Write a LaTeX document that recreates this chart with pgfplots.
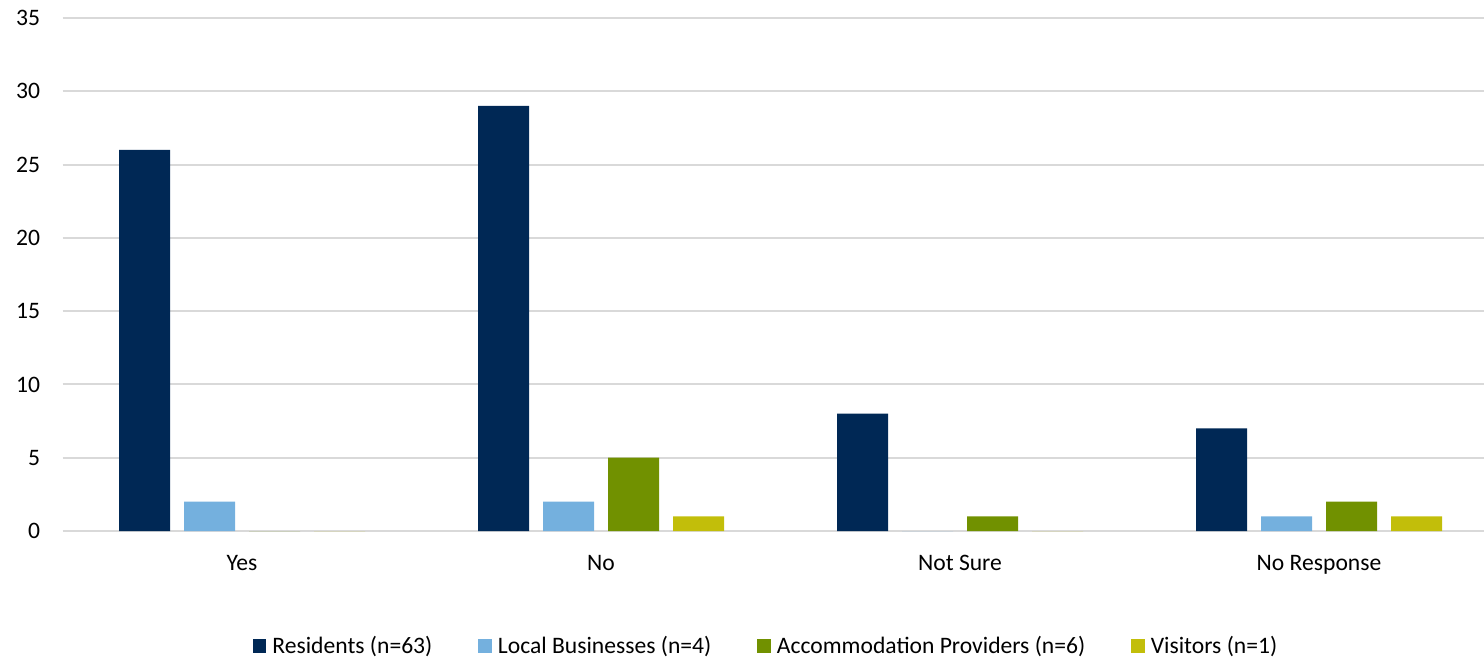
\documentclass[border=0pt]{standalone}
\usepackage{fontspec}
\setmainfont{Carlito}
\usepackage{pgfplots}
\pgfplotsset{compat=1.18}

\definecolor{resid}{RGB}{0,40,85}
\definecolor{local}{RGB}{116,176,222}
\definecolor{accom}{RGB}{113,145,0}
\definecolor{visit}{RGB}{194,190,10}
\definecolor{gridgray}{RGB}{217,217,217}

\begin{document}
\begin{tikzpicture}[font=\fontsize{11.8bp}{14bp}\selectfont]
\useasboundingbox (-31.25bp,-63bp) rectangle (710.75bp,265.5bp);
\begin{axis}[
    anchor=south west, at={(0,0)},
    scale only axis,
    width=718bp, height=256.5bp,
    ybar=7bp, bar width=25.5bp,
    xmin=-0.5, xmax=3.5,
    ymin=0, ymax=35,
    xtick={0,1,2,3},
    xticklabels={Yes,No,Not Sure,No Response},
    ytick={0,5,...,35},
    major tick length=0pt,
    axis line style={draw=none},
    ymajorgrids,
    grid style={gridgray, line width=1bp},
    /pgf/number format/assume math mode=true,
    xticklabel style={anchor=base, yshift=-19.5bp, inner sep=0pt},
    yticklabel style={anchor=east, xshift=-11bp, inner sep=0pt},
    legend columns=4,
    legend style={draw=none, fill=none, at={(0.4913,-0.224)}, anchor=center,
        nodes={inner xsep=3bp, inner ysep=1.5bp},
        /tikz/every even column/.append style={column sep=20bp}},
    legend image code/.code={\path[#1] (0bp,-3.4bp) rectangle (6.8bp,3.4bp);},
]
\addplot[fill=resid, draw=none] coordinates {(0,26) (1,29) (2,8) (3,7)};
\addplot[fill=local, draw=none] coordinates {(0,2) (1,2) (2,0) (3,1)};
\addplot[fill=accom, draw=none] coordinates {(0,0) (1,5) (2,1) (3,2)};
\addplot[fill=visit, draw=none] coordinates {(0,0) (1,1) (2,0) (3,1)};
\legend{Residents (n=63),Local Businesses (n=4),Accommodation Providers (n=6),Visitors (n=1)}
\end{axis}
\end{tikzpicture}
\end{document}
